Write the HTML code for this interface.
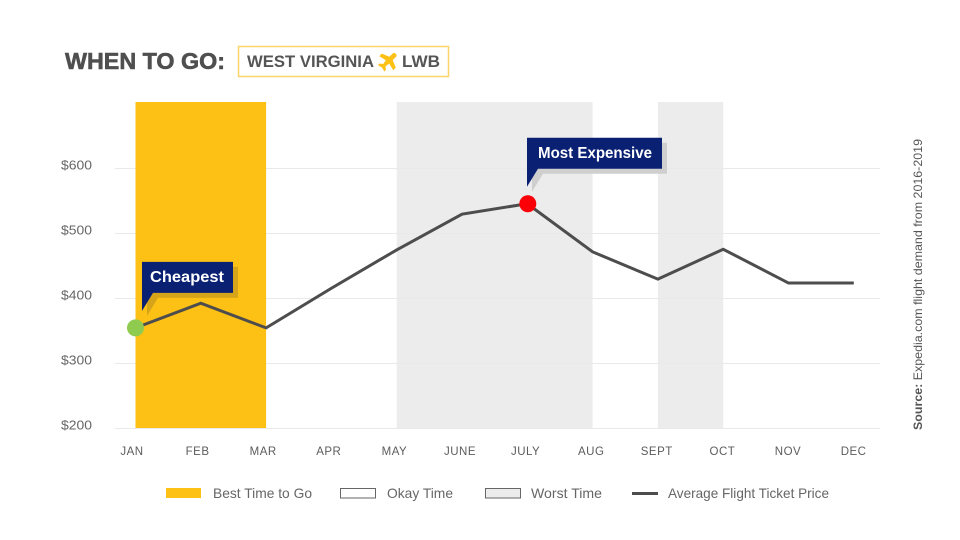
<!DOCTYPE html>
<html lang="en">
<head>
<meta charset="utf-8">
<title>When to go: West Virginia LWB</title>
<style>
html,body{margin:0;padding:0;background:#fff;width:960px;height:540px;overflow:hidden}
svg{display:block;font-family:"Liberation Sans",sans-serif}
</style>
</head>
<body>
<svg id="chart" width="960" height="540" viewBox="0 0 960 540" xmlns="http://www.w3.org/2000/svg">
  <text x="65" y="69" font-size="23" font-weight="700" fill="#4f4f4f" stroke="#4f4f4f" stroke-width="0.6" textLength="160" lengthAdjust="spacingAndGlyphs">WHEN TO GO:</text>
  <rect x="238.5" y="46.5" width="210" height="30" fill="#fff" stroke="#fbd568" stroke-width="1.5"/>
  <text x="247" y="67" font-size="17" font-weight="700" fill="#555" textLength="127" lengthAdjust="spacingAndGlyphs">WEST VIRGINIA</text>
  <path transform="translate(388.5 61) rotate(45) scale(0.9)" d="M-2.6-9.5C-2.6-12 2.6-12 2.6-9.5L2.6-4 11-0.5 11 3.5 2.6 1.5 1.8 6.5 5 9 5 11.5 0 10.3-5 11.5-5 9-1.8 6.5-2.6 1.5-11 3.5-11-0.5-2.6-4Z" fill="#fdc015"/>
  <text x="402" y="67" font-size="17" font-weight="700" fill="#555" textLength="38" lengthAdjust="spacingAndGlyphs">LWB</text>
  <g id="bands"></g>
  <g id="grid"></g>
  <g id="best"></g>
  <g id="xaxis"></g>
  <path id="price-line" fill="none" stroke="#4d4d4d" stroke-width="3" stroke-linejoin="miter"/>
  <g id="callouts"></g>

  <g font-size="14" fill="#666">
    <rect x="166" y="488" width="35" height="10" fill="#fdc015"/>
    <text x="213" y="498" textLength="99" lengthAdjust="spacingAndGlyphs">Best Time to Go</text>
    <rect x="340.5" y="488.5" width="35" height="9.5" fill="#fff" stroke="#666"/>
    <text x="387" y="498" textLength="66" lengthAdjust="spacingAndGlyphs">Okay Time</text>
    <rect x="485.5" y="488.5" width="35" height="9.5" fill="#ececec" stroke="#666"/>
    <text x="531" y="498" textLength="71" lengthAdjust="spacingAndGlyphs">Worst Time</text>
    <line x1="632" y1="493.5" x2="658" y2="493.5" stroke="#4d4d4d" stroke-width="3"/>
    <text x="668" y="498" textLength="161" lengthAdjust="spacingAndGlyphs">Average Flight Ticket Price</text>
  </g>
  <text transform="translate(922 430) rotate(-90)" font-size="12" fill="#555" textLength="291" lengthAdjust="spacingAndGlyphs"><tspan font-weight="700">Source:</tspan> Expedia.com flight demand from 2016-2019</text>
</svg>
<script>
const months = ['JAN','FEB','MAR','APR','MAY','JUNE','JULY','AUG','SEPT','OCT','NOV','DEC'];
const prices = [354,392,354,415,474,529,545,471,429,475,423,423];
const yTicks = [200,300,400,500,600];
const bestSpans = [[0,2]];
const worstSpans = [[4,7],[8,9]];
const cheapestIndex = 0;
const expensiveIndex = 6;

const NS = 'http://www.w3.org/2000/svg';
const x = i => 135.5 + i * 65.3;
const xLabel = i => 132 + i * 65.6;
const y = v => 428 - (v - 200) * 0.65;
const BAND_TOP = 102;

function make(parent, tag, attrs, text) {
  const el = document.createElementNS(NS, tag);
  for (const k in attrs) el.setAttribute(k, attrs[k]);
  if (text !== undefined) el.textContent = text;
  document.getElementById(parent).appendChild(el);
  return el;
}

worstSpans.forEach(s => {
  const el = make('bands', 'rect', {x: x(s[0]), y: BAND_TOP, width: x(s[1]) - x(s[0]), height: y(200) - BAND_TOP, fill: '#ececec'});
  
  
});

yTicks.forEach(t => {
  const line = make('grid', 'line', {x1: 115, x2: 880, y1: y(t) + 0.5, y2: y(t) + 0.5, stroke: '#e9e9e9', 'stroke-width': 1});
  
  
  const label = make('grid', 'text', {x: 61, y: y(t) + 1.5, 'font-size': 13, fill: '#666', textLength: 31, lengthAdjust: 'spacingAndGlyphs'}, '$' + t);
  
  
});

bestSpans.forEach(s => {
  const el = make('best', 'rect', {x: x(s[0]), y: BAND_TOP, width: x(s[1]) - x(s[0]), height: y(200) - BAND_TOP, fill: '#fdc015'});
  
  
});

months.forEach((m, i) => {
  const el = make('xaxis', 'text', {x: xLabel(i), y: 455, 'font-size': 11.5, fill: '#5c5c5c', 'text-anchor': 'middle', 'letter-spacing': 0.5}, m);
  
  
});

document.getElementById('price-line').setAttribute('d',
  prices.map((p, i) => (i ? 'L' : 'M') + x(i) + ' ' + y(p)).join(''));

function callout(idx, opts) {
  const px = x(idx), py = y(prices[idx]);
  const l = px + opts.dx, t = py - 66, r = l + opts.w, b = t + 31;
  const tail = 11;
  const shape = `${l} ${t}L${r} ${t}L${r} ${b}L${l + tail} ${b}L${l} ${b + opts.tailH}Z`;
  const shadow = make('callouts', 'path', {d: 'M' + shape, fill: opts.shadow, transform: 'translate(5 5)', opacity: opts.shadowOpacity});
  
  
  const box = make('callouts', 'path', {d: 'M' + shape, fill: '#0a2173'});
  
  
  const label = make('callouts', 'text', {x: l + opts.pad, y: t + 20, 'font-size': 15.5, 'font-weight': 700, fill: '#fff', textLength: opts.textW, lengthAdjust: 'spacingAndGlyphs'}, opts.text);
  
  
  const dot = make('callouts', 'circle', {cx: px + opts.dotDx, cy: py, r: 8.5, fill: opts.dot});
  
  
}

callout(cheapestIndex, {dx: 6.5, w: 91, tailH: 18, pad: 8, textW: 74, text: 'Cheapest', name: 'cheapest', shadow: '#d6a419', shadowOpacity: 1, dot: '#8ecb4f', dotDx: 0});
callout(expensiveIndex, {dx: -0.3, w: 135, tailH: 18, pad: 11, textW: 114, text: 'Most Expensive', name: 'most-expensive', shadow: '#cfcfcf', shadowOpacity: 1, dot: '#fb0007', dotDx: 0.5});
</script>
</body>
</html>
